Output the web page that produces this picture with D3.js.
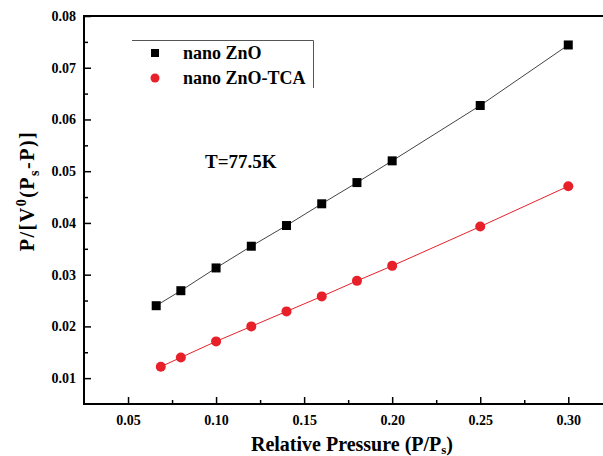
<!DOCTYPE html>
<html>
<head>
<meta charset="utf-8">
<script src="https://cdn.jsdelivr.net/npm/d3@7"></script>
<style>
  body { margin: 0; background: #fff; }
  svg text { font-family: "Liberation Serif", "Times New Roman", Times, "DejaVu Serif", serif; font-weight: bold; fill: #000; }
</style>
</head>
<body>
<div id="app"></div>
<script>
const xZnO = [0.066, 0.08, 0.10, 0.12, 0.14, 0.16, 0.18, 0.20, 0.25, 0.30];
const yZnO = [0.0240, 0.0269, 0.0313, 0.0355, 0.0395, 0.0437, 0.0478, 0.0520, 0.0627, 0.0744];
const xTCA = [0.0686, 0.08, 0.10, 0.12, 0.14, 0.16, 0.18, 0.20, 0.25, 0.30];
const yTCA = [0.0122, 0.0140, 0.0171, 0.0200, 0.0229, 0.0258, 0.0288, 0.0317, 0.0393, 0.0471];
const xTicks = [0.05, 0.10, 0.15, 0.20, 0.25, 0.30];
const yTicks = [0.01, 0.02, 0.03, 0.04, 0.05, 0.06, 0.07, 0.08];

const width = 603;
const height = 456;
const plotLeft = 84, plotTop = 16, plotBottom = 404;

const svg = d3.select('#app').append('svg')
  .attr('width', width)
  .attr('height', height);

const x = d3.scaleLinear().domain([0.025, 0.325]).range([plotLeft, plotLeft + 0.3 * 1761]);
const y = d3.scaleLinear().domain([0.005, 0.08]).range([plotBottom, plotTop]);

// frame
svg.append('rect')
  .attr('x', plotLeft).attr('y', plotTop)
  .attr('width', x.range()[1] - plotLeft).attr('height', plotBottom - plotTop)
  .attr('fill', 'none').attr('stroke', '#000').attr('stroke-width', 2);

// axes with inward ticks
const xAxis = svg.append('g')
  .attr('transform', `translate(0, ${plotBottom})`)
  .call(d3.axisBottom(x).tickValues(xTicks).tickFormat(d3.format('.2f')).tickSizeInner(-7).tickSizeOuter(0).tickPadding(11));
xAxis.append('g')
  .call(d3.axisBottom(x).tickValues(d3.range(0.075, 0.33, 0.05)).tickFormat('').tickSizeInner(-4).tickSizeOuter(0));

const yAxis = svg.append('g')
  .attr('transform', `translate(${plotLeft}, 0)`)
  .call(d3.axisLeft(y).tickValues(yTicks).tickFormat(d3.format('.2f')).tickSizeInner(-7).tickSizeOuter(0).tickPadding(8));
yAxis.append('g')
  .call(d3.axisLeft(y).tickValues(d3.range(0.015, 0.08, 0.01)).tickFormat('').tickSizeInner(-4).tickSizeOuter(0));

svg.selectAll('g').attr('font-family', null);
svg.selectAll('.domain').remove();
svg.selectAll('.tick line').attr('stroke', '#000').attr('stroke-width', 1.5);
svg.selectAll('.tick text')
  .attr('fill', '#000')
  .style('font-size', '14px');

// series
const series = [
  { xs: xZnO, ys: yZnO, color: '#000', line: '#444', shape: 'square' },
  { xs: xTCA, ys: yTCA, color: '#e8202a', line: '#e8202a', shape: 'circle' }
];

const line = d3.line().x(d => x(d[0])).y(d => y(d[1]));

series.forEach(s => {
  const pts = s.xs.map((v, i) => [v, s.ys[i]]);
  svg.append('path')
    .datum(pts)
    .attr('d', line)
    .attr('fill', 'none')
    .attr('stroke', s.line)
    .attr('stroke-width', 1);
  if (s.shape === 'square') {
    svg.selectAll(null).data(pts).enter().append('rect')
      .attr('x', d => x(d[0]) - 4.5)
      .attr('y', d => y(d[1]) - 4.5)
      .attr('width', 9).attr('height', 9)
      .attr('fill', s.color);
  } else {
    svg.selectAll(null).data(pts).enter().append('circle')
      .attr('cx', d => x(d[0]))
      .attr('cy', d => y(d[1]))
      .attr('r', 5)
      .attr('fill', s.color);
  }
});

// legend (top and right edge only)
const lg = svg.append('g');
lg.append('path')
  .attr('d', 'M132,40.5 H313.5 V88')
  .attr('fill', 'none').attr('stroke', '#555').attr('stroke-width', 1);
lg.append('rect').attr('x', 151).attr('y', 49).attr('width', 8).attr('height', 8).attr('fill', '#000');
lg.append('circle').attr('cx', 155).attr('cy', 78).attr('r', 4.5).attr('fill', '#e8202a');
lg.append('text').attr('x', 183).attr('y', 58.5).style('font-size', '18px').text('nano ZnO');
lg.append('text').attr('x', 183).attr('y', 84).style('font-size', '18px').text('nano ZnO-TCA');

svg.append('text')
  .attr('x', 205).attr('y', 168)
  .style('font-size', '19px')
  .text('T=77.5K');

// axis titles
const xt = svg.append('text')
  .attr('x', 352).attr('y', 451)
  .attr('text-anchor', 'middle')
  .style('font-size', '20px');
xt.append('tspan').text('Relative Pressure (P/P');
xt.append('tspan').attr('dy', 3).style('font-size', '13px').text('s');
xt.append('tspan').attr('dy', -3).text(')');

const yt = svg.append('text')
  .attr('transform', 'translate(34, 191) rotate(-90)')
  .attr('text-anchor', 'middle')
  .style('font-size', '20px')
  .style('letter-spacing', '1.5px');
yt.append('tspan').text('P/[V');
yt.append('tspan').attr('dy', -8).style('font-size', '14px').text('0');
yt.append('tspan').attr('dy', 8).text('(P');
yt.append('tspan').attr('dy', 5).style('font-size', '14px').text('s');
yt.append('tspan').attr('dy', -5).text('-P)]');
</script>
</body>
</html>
